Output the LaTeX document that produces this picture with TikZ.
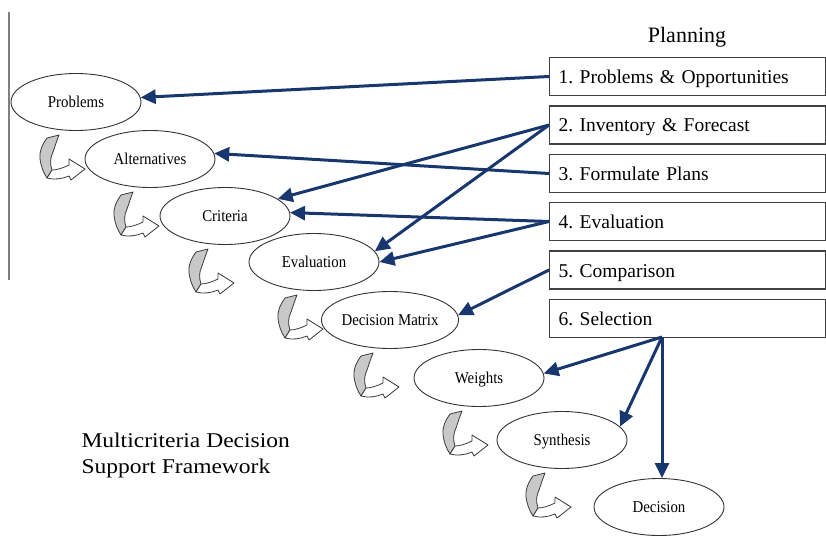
\documentclass[tikz,border=0pt]{standalone}
\usepackage{fontspec}
\setmainfont{Liberation Serif}
\newfontfamily\ellfont[FakeStretch=0.9]{Liberation Serif}
\newfontfamily\capfont[FakeStretch=1.12]{Liberation Serif}
\usetikzlibrary{shapes.geometric,arrows.meta,calc}
\definecolor{arrowblue}{HTML}{18376E}
\definecolor{curlgray}{HTML}{C8C8C8}
\definecolor{curledge}{HTML}{3A3A3A}
\tikzset{
  curl/.pic={
    \filldraw[draw=curledge,line width=0.8pt,fill=curlgray,line join=round]
      (-29,36) .. controls (-34,43) and (-37,50) .. (-36,57)
      .. controls (-35,64) and (-33,70) .. (-29,76)
      -- (-24,68) .. controls (-26,62) and (-26,56) .. (-23,50)
      .. controls (-21,44) and (-19,38) .. (-17,33) -- cycle;
    \filldraw[draw=curledge,line width=0.8pt,fill=white,line join=round]
      (-29,76) .. controls (-22,78) and (-14,77) .. (-7,74)
      -- (-5,78) -- (9,67) -- (-7,57) -- (-7,63)
      .. controls (-13,66) and (-19,68) .. (-24,68) -- cycle;
  }
}
\begin{document}
\frenchspacing
\begin{tikzpicture}[x=1pt,y=-1pt,
  ell/.style={ellipse,draw=black!80,fill=white,line width=0.9pt,minimum width=130pt,
    minimum height=57pt,inner sep=0pt,text height=11pt,text depth=0pt,
    font=\ellfont\fontsize{16.5}{18}\selectfont},
  boxn/.style={rectangle,draw=black!75,fill=white,line width=1.2pt,minimum width=276pt,
    minimum height=38pt,text width=258pt,inner xsep=9pt,align=left,anchor=west,
    text height=14pt,text depth=0pt,font=\fontsize{19.5}{23}\selectfont},
  conn/.style={draw=arrowblue,line width=3pt,-{Triangle[length=15pt,width=14pt]}}
]
\useasboundingbox (0,0) rectangle (826,540);

% left vertical rule
\draw[draw=black!50,line width=1.8pt] (9,12) -- (9,280);

% title
\node[anchor=base,font=\fontsize{22}{26}\selectfont] (plan) at (687,43) {Planning};

% ellipses
\node[ell] (prob) at (76,102) {Problems};
\node[ell] (alt)  at (150,159) {Alternatives};
\node[ell] (crit) at (225,216) {Criteria};
\node[ell] (eval) at (314,262) {Evaluation};
\node[ell] (dm)   at (390,320) {Decision Matrix};
\node[ell] (w)    at (479,378) {Weights};
\node[ell] (syn)  at (562,440) {Synthesis};
\node[ell] (dec)  at (659,507) {Decision};

% curved step arrows
\foreach \n in {prob,alt,crit,eval,dm,w,syn}{ \pic at (\n) {curl}; }

% planning boxes
\node[boxn] (b1) at (549,76.5)  {1. Problems \& Opportunities};
\node[boxn] (b2) at (549,125)   {2. Inventory \& Forecast};
\node[boxn] (b3) at (549,173.5) {3. Formulate Plans};
\node[boxn] (b4) at (549,221.5) {4. Evaluation};
\node[boxn] (b5) at (549,270)   {5. Comparison};
\node[boxn] (b6) at (549,318.5) {6. Selection};
\coordinate (s6) at (662,337);

% connectors
\draw[conn] (b1.west) -- (prob.4);
\draw[conn] (b2.west) -- (crit.18);
\draw[conn] (b2.west) -- (eval.10);
\draw[conn] (b3.west) -- (alt.5);
\draw[conn] (b4.west) -- (crit.3);
\draw[conn] (b4.west) -- (eval.0);
\draw[conn] (b5.west) -- (dm.4);
\draw[conn] (s6) -- (w.4);
\draw[conn] (s6) -- (syn.13);
\draw[conn] (s6) -- (s6 |- dec.north);

% caption
\node[anchor=base west,align=left,font=\capfont\fontsize{21}{25.5}\selectfont] (cap) at (78,473)
  {Multicriteria Decision\\Support Framework};
\end{tikzpicture}
\end{document}
